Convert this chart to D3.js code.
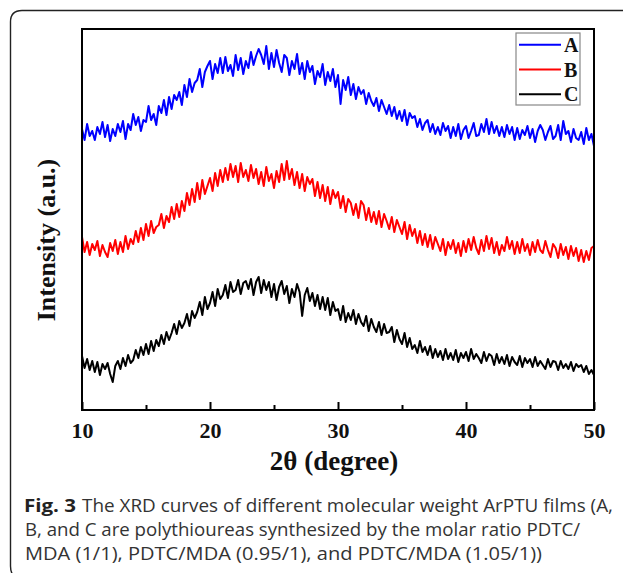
<!DOCTYPE html>
<html><head><meta charset="utf-8">
<script src="https://cdn.jsdelivr.net/npm/d3@7"></script>
<style>html,body{margin:0;padding:0;background:#fff;}svg{display:block;}</style>
</head><body>
<svg id="c" width="623" height="573"></svg>
<script>
// ---- data (intensity in arbitrary units) ----
const angleStart = 10, angleStep = 0.2;
const seriesNames = ["A", "B", "C"];
const seriesColors = ["#0000ff", "#ff0000", "#000000"];
const xTicks = [10, 20, 30, 40, 50];
const xMinorTicks = [15, 25, 35, 45];
const intensityA = [
281,270,286,274,279, 270,283,276,288,273, 285,269,281,274,286, 278,289,271,286,280,
296,285,293,279,290, 288,304,290,296,285, 304,297,310,295,313, 301,315,310,318,305,
325,313,331,318,327, 330,341,323,338,344, 349,331,346,337,352, 337,353,339,345,334,
355,340,352,336,349, 342,358,345,354,361, 355,346,364,341,357, 343,360,347,338,355,
352,335,349,341,356, 336,347,331,349,338, 344,326,339,333,346, 325,338,329,341,323,
335,306,330,320,333, 315,326,311,323,316, 320,306,317,309,304, 312,299,310,303,296,
305,294,303,291,299, 289,300,285,297,292, 294,283,291,280,287, 290,278,286,276,283,
275,287,279,284,272, 283,274,286,271,280, 284,272,279,287,274, 275,286,278,291,276,
288,277,284,274,283, 273,285,276,283,270, 282,271,280,275,284, 272,281,268,279,285,
280,270,278,284,271, 274,285,270,289,276, 279,268,281,272,270, 278,266,282,270,276,
264];
const intensityB = [
173,158,168,155,166, 160,169,154,165,158, 153,167,159,170,156, 168,158,174,161,171,
166,179,168,182,170, 186,174,189,177,183, 185,196,182,194,188, 203,191,206,193,209,
199,217,205,221,208, 227,211,230,216,224, 232,219,237,224,240, 228,242,230,246,233,
244,228,247,233,240, 229,245,232,241,226, 238,224,243,229,236, 222,239,228,246,230,
249,231,241,225,238, 222,236,219,233,226, 231,214,228,212,225, 209,223,206,220,212,
218,202,214,198,211, 207,195,206,192,209, 205,190,202,188,198, 186,199,183,196,189,
181,193,178,190,183, 176,188,171,185,174, 181,167,179,165,176, 163,175,161,173,166,
159,171,155,168,161, 170,157,167,154,169, 158,171,160,173,162, 156,170,159,174,161,
172,157,168,155,165, 159,173,161,169,156, 168,157,171,159,166, 155,168,158,170,160,
157,169,160,153,166, 162,152,166,155,163, 151,164,154,162,149, 160,148,159,150,162,
164];
const intensityC = [
54,42,51,40,49, 38,48,35,46,41, 47,36,28,44,49, 41,52,44,55,47,
50,60,52,63,55, 66,56,69,59,70, 64,75,66,78,70, 77,86,76,89,82,
87,96,84,99,92, 98,108,95,113,101, 107,118,104,121,111, 115,125,112,128,118,
120,130,116,127,129, 121,131,115,128,133, 117,130,120,128,113, 126,110,123,129,116,
124,107,121,113,126, 118,94,115,122,109, 117,104,115,101,113, 100,112,95,108,99,
101,90,104,88,97, 90,100,86,96,88, 84,94,79,91,83, 78,88,75,86,77,
78,83,68,80,71, 66,77,63,72,61, 65,57,69,58,63, 55,64,52,61,53,
59,50,61,51,57, 50,60,48,57,52, 58,49,61,51,56, 52,47,58,49,56,
54,45,56,47,53, 46,55,44,53,48, 45,54,43,52,47, 51,43,53,44,49,
45,41,51,43,49, 48,40,49,42,46, 41,48,39,46,43, 45,38,44,36,40,
35];
const xLabel = "2\u03B8 (degree)";
const yLabel = "Intensity (a.u.)";
const captionBold = "Fig. 3";
const captionLines = [
  "The XRD curves of different molecular weight ArPTU films (A,",
  "B, and C are polythioureas synthesized by the molar ratio PDTC/",
  "MDA (1/1), PDTC/MDA (0.95/1), and PDTC/MDA (1.05/1))"
];

// ---- drawing ----
const svg = d3.select("#c");
const L = 82, R = 594, T = 29, B = 410;
const x = d3.scaleLinear().domain([10, 50]).range([L, R]);
const y = d3.scaleLinear().domain([0, 381]).range([B, T]);

// outer rounded box (no bottom edge visible)
svg.append("path")
  .attr("d", "M630,10.5 L22,10.5 Q10.5,10.5 10.5,22 L10.5,566 Q10.5,573 14,576")
  .attr("fill", "none").attr("stroke", "#222").attr("stroke-width", 1.4);

const allSeries = [intensityA, intensityB, intensityC];
const line = d3.line()
  .x((d, i) => x(angleStart + i * angleStep))
  .y(d => y(d));
const g = svg.append("g");
allSeries.forEach((s, k) => {
  g.append("path").datum(s)
    .attr("d", line)
    .attr("fill", "none")
    .attr("stroke", seriesColors[k])
    .attr("stroke-width", 2)
    .attr("stroke-linejoin", "round");
});

// frame
svg.append("rect").attr("x", L).attr("y", T).attr("width", R - L).attr("height", B - T)
  .attr("fill", "none").attr("stroke", "#000").attr("stroke-width", 2);

// bottom axis, ticks pointing inward
const axis = d3.axisBottom(x).tickValues(xTicks).tickSize(-8).tickPadding(12)
  .tickFormat(d3.format("d"));
const ax = svg.append("g").attr("transform", `translate(0,${B})`).call(axis);
ax.select(".domain").remove();
ax.selectAll(".tick line").attr("stroke", "#000").attr("stroke-width", 2);
ax.selectAll(".tick text")
  .attr("font-family", "Liberation Serif, Times New Roman, serif")
  .attr("font-weight", "bold").attr("font-size", 22).attr("fill", "#111");
const minor = d3.axisBottom(x).tickValues(xMinorTicks).tickSize(-5).tickFormat("");
const mx = svg.append("g").attr("transform", `translate(0,${B})`).call(minor);
mx.select(".domain").remove();
mx.selectAll(".tick line").attr("stroke", "#000").attr("stroke-width", 2);

// axis titles
svg.append("text").attr("x", 334).attr("y", 470).attr("text-anchor", "middle")
  .attr("font-family", "Liberation Serif, serif").attr("font-weight", "bold")
  .attr("font-size", 27).attr("fill", "#111").text(xLabel);
svg.append("text").attr("transform", "translate(55,240) rotate(-90)")
  .attr("text-anchor", "middle")
  .attr("font-family", "Liberation Serif, serif").attr("font-weight", "bold")
  .attr("font-size", 26).attr("fill", "#111").text(yLabel);

// legend
const lg = svg.append("g");
lg.append("rect").attr("x", 516).attr("y", 33).attr("width", 64).attr("height", 72)
  .attr("fill", "#fff").attr("stroke", "#888").attr("stroke-width", 1.2);
seriesNames.forEach((n, k) => {
  const yy = 44.7 + k * 24.8;
  lg.append("line").attr("x1", 519).attr("x2", 561).attr("y1", yy).attr("y2", yy)
    .attr("stroke", seriesColors[k]).attr("stroke-width", 2);
  lg.append("text").attr("x", 564).attr("y", yy + 7)
    .attr("font-family", "Liberation Serif, serif").attr("font-weight", "bold")
    .attr("font-size", 20).attr("fill", "#111").text(n);
});

// caption
const cap = svg.append("g").attr("font-family", "Open Sans, sans-serif")
  .attr("font-size", 17.5).attr("fill", "#333");
const baseY = 512, lh = 24;
cap.append("text").attr("x", 24).attr("y", baseY).attr("font-weight", "bold")
  .attr("fill", "#222").attr("textLength", 52).attr("lengthAdjust", "spacingAndGlyphs")
  .text(captionBold);
const capPos = [[82, 531], [25, 555], [25, 517]];
captionLines.forEach((t, i) => {
  cap.append("text").attr("x", capPos[i][0]).attr("y", baseY + i * lh)
    .attr("textLength", capPos[i][1]).attr("lengthAdjust", "spacingAndGlyphs")
    .text(t);
});
</script>
</body></html>
